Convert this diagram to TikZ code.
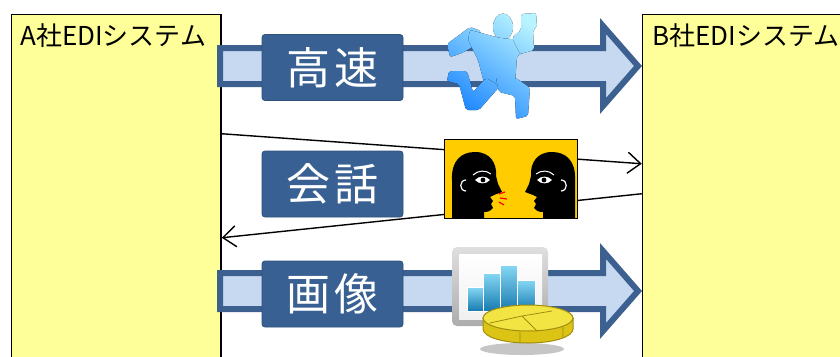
\documentclass[tikz,border=0pt]{standalone}
\usepackage{fontspec}
\setmainfont{Noto Sans CJK JP}
\usetikzlibrary{arrows.meta}

\definecolor{sysfill}{HTML}{FFFF99}
\definecolor{flowfill}{HTML}{C6D9F1}
\definecolor{flowedge}{HTML}{3C6190}
\definecolor{tagfill}{HTML}{386092}
\definecolor{talkbg}{HTML}{FFCC00}
\definecolor{runlight}{HTML}{B8F4FF}
\definecolor{rundark}{HTML}{1A84FF}
\definecolor{barlight}{HTML}{86D8F4}
\definecolor{bardark}{HTML}{167AB0}
\definecolor{coinface}{HTML}{F2E443}
\definecolor{coinside}{HTML}{DCC414}
\definecolor{coinedge}{HTML}{A08C10}

\tikzset{
  sysbox/.style={draw=black, line width=1.5pt, fill=sysfill, anchor=north west,
    minimum width=209.5, minimum height=400, inner sep=0},
  systitle/.style={anchor=base west, inner sep=0, font=\fontsize{26}{30}\selectfont},
  tagbox/.style={fill=tagfill, draw=tagfill!85!black, line width=0.8pt,
    rounded corners=3pt, minimum width=141, minimum height=66, inner sep=0,
    text=white, font=\fontsize{44}{50}\selectfont},
  flowarrow/.pic={
    \draw[draw=flowedge, fill=flowfill, line width=6pt, line join=miter]
      (0,-18) -- (383,-18) -- (383,-40) -- (418,0) -- (383,40) -- (383,18)
      -- (0,18) -- cycle;},
  talkline/.style={line width=1.4pt, -{Straight Barb[length=13pt,width=21pt]}},
  runpart/.style={rounded corners=2pt, path picture={
    \shade[top color=runlight, bottom color=rundark, shading angle=-35]
      (440,8) rectangle (545,122);}},
  headpart/.style={fill=black},
}

\begin{document}
\begin{tikzpicture}[x=1pt, y=-1pt]
\useasboundingbox (0,0) rectangle (840,356);
\clip (0,0) rectangle (840,356);

% the two EDI systems
\node[sysbox] (sysA) at (10.75,13.75) {};
\node[sysbox] (sysB) at (641.75,13.75) {};
\node[systitle] (titleA) at (20,45) {A社EDIシステム};
\node[systitle] (titleB) at (652,45) {B社EDIシステム};

% block arrows from A to B
\pic at (220,66) {flowarrow};
\pic at (220,291) {flowarrow};

% conversation lines
\path (sysA.north east) ++(0,120) coordinate (talkAout);
\path (sysB.north west) ++(0,150) coordinate (talkBin);
\path (sysB.north west) ++(0,180) coordinate (talkBout);
\path (sysA.north east) ++(0,224) coordinate (talkAin);
\draw[talkline] (talkAout) -- (talkBin);
\draw[talkline] (talkBout) -- (talkAin);

% labels
\node[tagbox] (tagspeed) at (332.5,67.5) {高\hspace{4pt}速};
\node[tagbox] (tagtalk) at (332.5,184) {会\hspace{4pt}話};
\node[tagbox] (tagimage) at (332.5,294) {画\hspace{4pt}像};

% running man
\fill[runpart] (503,27) ellipse [x radius=10, y radius=13.5];
\fill[runpart] (447,44) -- (470,27) -- (481,31) -- (481,42) -- (462,53) -- (450,57) -- cycle;
\fill[runpart] (470,30) -- (500,38) -- (522,40) -- (524,52) -- (517,56) -- (515,84)
  -- (485,86) -- (478,60) -- (468,40) -- cycle;
\fill[runpart] (512,38) -- (521,30) -- (521,14) -- (536,13) -- (537,27) -- (533,30)
  -- (534,50) -- (520,54) -- cycle;
\fill[runpart] (486,78) -- (500,86) -- (479,110) -- (466,110) -- (459,84) -- (447,81)
  -- (449,71) -- (467,71) -- (473,92) -- cycle;
\fill[runpart] (496,78) -- (516,78) -- (530,88) -- (528,116) -- (516,119) -- (515,96)
  -- (499,92) -- cycle;

% two people talking
\node[draw=black, line width=1.3pt, fill=talkbg, anchor=north west,
  minimum width=133, minimum height=79, inner sep=0] (talk) at (444,139) {};
\foreach \flip/\shift in {1/0, -1/1027} {
  \begin{scope}[xshift=\shift pt, xscale=\flip]
    \fill[headpart] (452,218) -- (452,180) .. controls (451,161) and (461,152) .. (475,152)
      .. controls (490,152) and (497,163) .. (496,176) -- (498,184) -- (502,192)
      -- (494,195) -- (490,197) -- (493,201) -- (491,204) -- (493,208)
      .. controls (490,212) and (486,212) .. (484,212) -- (484,218) -- cycle;
    \fill[white] (475,180) .. controls (479,175.5) and (486,175.5) .. (490,180)
      .. controls (486,184.5) and (479,184.5) .. (475,180) -- cycle;
    \fill[black] (483,180) circle [radius=2.4];
    \draw[white, line width=1pt] (473,175) .. controls (478,170) and (486,170) .. (491,174);
    \draw[white, line width=1.2pt] (466,180) .. controls (459,180) and (459,191) .. (466,191);
  \end{scope}
}
\draw[red, line width=1.2pt] (499,194) -- (505,192) (500,198) -- (507,199) (499,202) -- (504,205);

% chart on a screen
\shade[top color=gray!25, bottom color=gray!65, rounded corners=5pt]
  (452,247) rectangle (548,326);
\shade[top color=white, bottom color=gray!12] (459,254) rectangle (542,319);
\foreach \xa/\xb/\ytop in {467/483/287, 483/500/273, 500/517/265, 517/535/280} {
  \shade[top color=barlight, bottom color=bardark, draw=white, line width=0.8pt]
    (\xa,\ytop) rectangle (\xb,311);
}

% coin
\fill[gray!45] (522,349) ellipse [x radius=42, y radius=6];
\filldraw[fill=coinside, draw=coinedge, line width=1pt]
  (483,318) -- (483,329) .. controls (483,337) and (503,343) .. (528,343)
  .. controls (553,343) and (573,337) .. (573,329) -- (573,318) -- cycle;
\filldraw[fill=coinface, draw=coinedge, line width=1pt] (528,318) ellipse [x radius=45, y radius=13];
\draw[coinedge, line width=0.8pt] (490,323) -- (522,316) -- (537,331)
  (522,316) -- (552,311) (520,332) -- (520,342) (563,327) -- (563,337);
\end{tikzpicture}
\end{document}
